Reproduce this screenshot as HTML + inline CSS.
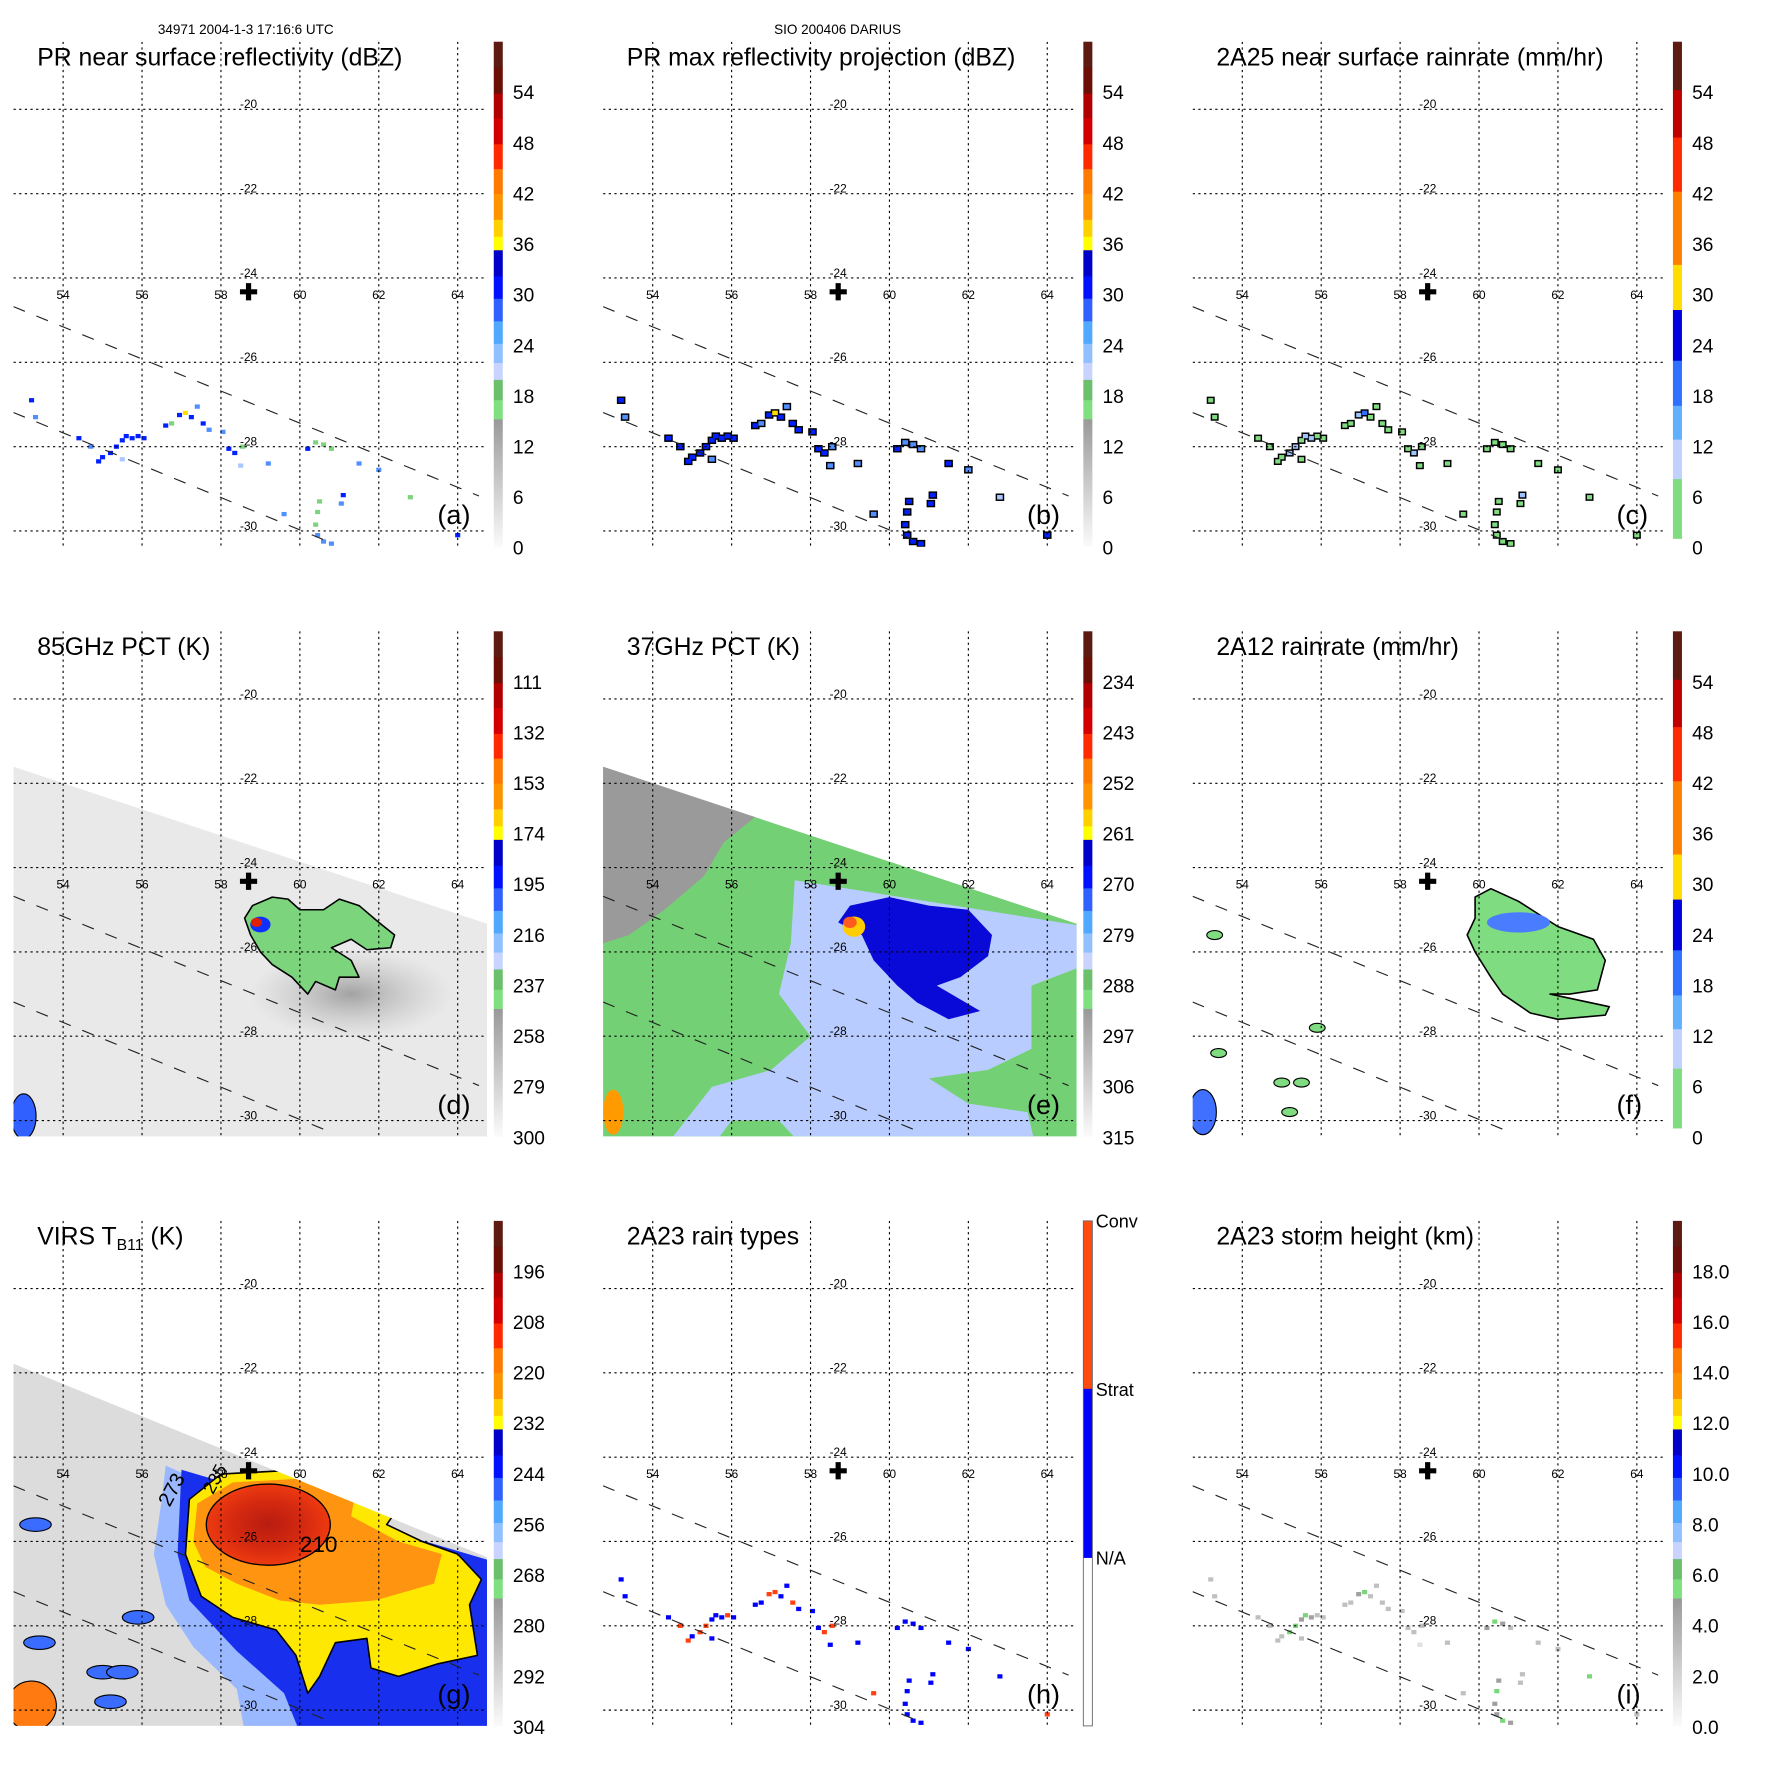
<!DOCTYPE html>
<html><head><meta charset="utf-8">
<style>
html,body{margin:0;padding:0;background:#fff;}
svg{display:block;font-family:"Liberation Sans",sans-serif;}
</style></head>
<body>
<svg id="chart" width="1771" height="1771" viewBox="0 0 1571 1571" xmlns="http://www.w3.org/2000/svg">
<defs>
<linearGradient id="grayGrad" x1="0" y1="0" x2="0" y2="1">
<stop offset="0" stop-color="#999"/><stop offset="1" stop-color="#fbfbfb"/>
</linearGradient>
<radialGradient id="redCore"><stop offset="0" stop-color="#b81c10"/><stop offset="0.6" stop-color="#d62a10"/><stop offset="1" stop-color="#ee3a10"/></radialGradient>
<radialGradient id="darkCloud"><stop offset="0" stop-color="#9a9a9a" stop-opacity="0.9"/><stop offset="1" stop-color="#bbb" stop-opacity="0"/></radialGradient>
</defs>
<text x="218" y="30" font-size="12" text-anchor="middle">34971 2004-1-3 17:16:6 UTC</text>
<text x="743" y="30" font-size="12" text-anchor="middle">SIO 200406 DARIUS</text>
</svg>
<script>
// ---- data arrays ----
const lonTicks = [54, 56, 58, 60, 62, 64];
const latTicks = [-20, -22, -24, -26, -28, -30];
const centerLon = 58.7, centerLat = -24.36;
const cbA = ["54","48","42","36","30","24","18","12","6","0"];
const cbB = ["54","48","42","36","30","24","18","12","6","0"];
const cbC = ["54","48","42","36","30","24","18","12","6","0"];
const cbD = ["111","132","153","174","195","216","237","258","279","300"];
const cbE = ["234","243","252","261","270","279","288","297","306","315"];
const cbF = ["54","48","42","36","30","24","18","12","6","0"];
const cbG = ["196","208","220","232","244","256","268","280","292","304"];
const cbH = ["Conv","Strat","N/A"];
const cbI = ["18.0","16.0","14.0","12.0","10.0","8.0","6.0","4.0","2.0","0.0"];
// PR rain cells (lon, lat)
const cellLon = [53.2,53.3,54.4,54.7,55.0,55.2,55.35,55.5,55.6,55.75,55.9,56.05,56.6,56.75,56.95,57.1,57.25,57.4,57.55,57.7,58.05,58.2,58.35,58.55,58.5,60.2,60.4,60.6,60.8,61.5,62.0,61.1,61.05,60.5,60.45,60.4,60.45,60.6,60.8,64.0,62.8,59.2,59.6,55.5,54.9];
const cellLat = [-26.9,-27.3,-27.8,-28.0,-28.25,-28.15,-28.0,-27.85,-27.75,-27.8,-27.75,-27.8,-27.5,-27.45,-27.25,-27.2,-27.3,-27.05,-27.45,-27.6,-27.65,-28.05,-28.15,-28.0,-28.45,-28.05,-27.9,-27.95,-28.05,-28.4,-28.55,-29.15,-29.35,-29.3,-29.55,-29.85,-30.1,-30.25,-30.3,-30.1,-29.2,-28.4,-29.6,-28.3,-28.35];
const reflA = [30,24,28,25,28,31,32,30,33,31,29,30,30,19,31,37,30,24,28,27,27,30,31,18,22,30,18,17,19,25,24,31,26,18,17,19,24,26,25,29,18,24,24,23,30];
const reflB = [31,25,30,28,30,33,34,32,34,32,31,31,32,24,33,38,32,27,30,29,29,31,32,26,26,31,27,26,25,28,27,32,29,28,28,29,30,30,29,30,20,26,26,27,31];
const rainC = [4,2,3,3,4,6,7,5,8,6,4,5,5,2,6,14,5,3,4,3,3,5,6,2,2,5,2,2,2,3,3,6,3,2,2,2,3,3,3,4,1,2,2,2,5];
const typeH = [1,1,1,2,1,2,2,1,1,1,2,1,1,1,2,2,1,1,2,1,1,1,2,2,1,1,1,1,1,1,1,1,1,1,1,1,1,1,1,2,1,1,2,1,2];
const heightI = [3,3,3,2,3,5,5,4,5,4,3,3,3,2,4,5,3,3,2,2,2,3,3,2,1,4,5,4,3,3,2,3,3,4,5,4,4,5,4,2,6,2,2,3,3];
// field polygons (lon, lat)
const swathPMI = [[52.4,-21.5],[65,-25.41],[65,-31],[52.4,-31]];
const swathVIRS = [[52.4,-21.65],[65,-26.47],[65,-31],[52.4,-31]];
const stormD = [[58.8,-24.9],[59.3,-24.7],[59.7,-24.75],[60.0,-25.0],[60.6,-25.0],[61.0,-24.75],[61.5,-24.9],[62.0,-25.3],[62.4,-25.6],[62.3,-25.9],[61.7,-25.95],[61.3,-25.7],[60.8,-25.9],[61.3,-26.2],[61.5,-26.6],[61.0,-26.6],[60.9,-26.9],[60.4,-26.7],[60.2,-27.0],[59.8,-26.6],[59.3,-26.3],[59.0,-26.0],[58.75,-25.6],[58.6,-25.2]];
const grayE = [[52.4,-21.5],[56.6,-22.8],[55.8,-23.4],[55.3,-24.2],[54.3,-25.0],[53.4,-25.6],[52.4,-25.9]];
const lightE = [[57.6,-24.3],[65,-25.4],[65,-26.3],[63.6,-26.8],[63.6,-28.3],[62.5,-28.8],[61.0,-29.0],[62.0,-29.6],[63.5,-29.8],[63.8,-31],[58.2,-31],[57.2,-30.0],[56.0,-30.0],[55.2,-31],[54.0,-31],[55.5,-29.2],[57.0,-28.8],[58.0,-28.0],[57.2,-27.0],[57.5,-25.8]];
const blueE = [[59.0,-24.9],[60,-24.7],[61,-24.9],[62,-25.0],[62.6,-25.6],[62.5,-26.1],[61.8,-26.6],[61.2,-26.8],[62.3,-27.4],[61.5,-27.6],[60.7,-27.2],[60.2,-26.8],[59.6,-26.2],[59.3,-25.6],[58.7,-25.3]];
const stormF = [[59.9,-24.7],[60.3,-24.5],[61,-24.8],[62,-25.4],[62.9,-25.7],[63.2,-26.2],[63.0,-26.9],[62.3,-27.0],[61.8,-27.0],[63.3,-27.3],[63.2,-27.5],[62.0,-27.6],[61.3,-27.45],[60.6,-27.0],[60.3,-26.6],[59.9,-26.0],[59.7,-25.6],[59.9,-25.2]];
const lightG = [[56.6,-24.2],[60,-25.6],[60,-31],[58.7,-31],[58.4,-29.5],[57.3,-28.5],[56.6,-27.5],[56.3,-26.3],[56.5,-25.0]];
const blueG = [[57.0,-24.3],[65,-26.5],[65,-31],[60.2,-31],[59.6,-29.6],[58.4,-28.6],[57.2,-27.4],[56.9,-26.3]];
const yellowG = [[57.2,-25.0],[58,-24.4],[60,-24.3],[62.5,-25.2],[62.2,-25.6],[63.1,-26.0],[64.0,-26.3],[64.6,-26.9],[64.3,-27.5],[64.5,-28.7],[63.5,-28.9],[62.5,-29.2],[61.8,-29.0],[61.7,-28.3],[60.9,-28.4],[60.5,-29.2],[60.2,-29.6],[59.9,-28.7],[59.4,-28.1],[58.3,-27.8],[57.5,-27.3],[57.1,-26.3]];
const orangeG = [[57.4,-25.1],[58.3,-24.6],[60.2,-24.5],[61.4,-24.9],[61.3,-25.4],[62.5,-26.0],[63.6,-26.3],[63.4,-27.0],[61.9,-27.4],[60.5,-27.5],[59.5,-27.4],[58.4,-27.0],[57.6,-26.6],[57.3,-26.0]];
const blobLon = [55.9,53.4,55.0,55.5,55.2,53.3];
const blobLat = [-27.8,-28.4,-29.1,-29.1,-29.8,-25.6];

// ---- helpers ----
const NS = "http://www.w3.org/2000/svg";
const svg = document.getElementById('chart');
function mk(tag, attrs, parent){ const e=document.createElementNS(NS,tag); for(const k in attrs) e.setAttribute(k,attrs[k]); (parent||svg).appendChild(e); return e; }
function axes(ox, oy){ return { X: lon => ox + 56 + (lon-54)*35, Y: lat => oy + 97 + (-20-lat)*37.4 }; }
function poly(a, pts){ return pts.map(p => a.X(p[0]).toFixed(1)+','+a.Y(p[1]).toFixed(1)).join(' '); }

const cmapA = [[37,60,'#5c1a12'],[60,83,'#6a0e06'],[83,105,'#b00000'],[105,128,'#d40000'],[128,150,'#ff2a00'],[150,172,'#ff7a00'],[172,195,'#ff9400'],[195,210,'#ffd000'],[210,222,'#ffff00'],[222,245,'#0000c8'],[245,265,'#0010ff'],[265,285,'#3060ff'],[285,305,'#50a8ff'],[305,322,'#90c0ff'],[322,337,'#c8d4ff'],[337,355,'#6cc06c'],[355,372,'#80e080'],[372,485,'url(#grayGrad)']];
const cmapC = [[37,80,'#5c1a12'],[80,122,'#c00000'],[122,170,'#ff2a00'],[170,235,'#ff8000'],[235,275,'#ffdd00'],[275,320,'#0000e0'],[320,360,'#3070ff'],[360,390,'#60b0ff'],[390,425,'#c0d0ff'],[425,478,'#80dc80'],[478,485,'#ffffff']];
const cmapH = [[37,186,'#ff4a10'],[186,336,'#0000ff'],[336,485,'#ffffff']];

function colA(v){ if(v<15) return '#aaa'; if(v<20) return '#7cd47c'; if(v<24) return '#a8c8ff'; if(v<28) return '#4f8fff'; if(v<35) return '#0020ff'; if(v<40) return '#ffe000'; if(v<45) return '#ff8000'; return '#e00000'; }
function colC(v){ if(v<6) return '#80dc80'; if(v<12) return '#a0c4ff'; if(v<18) return '#3070ff'; if(v<24) return '#0000e0'; return '#ffdd00'; }
function colH(v){ return v===2 ? '#ff4010' : '#0000ff'; }
function colI(v){ if(v<2) return '#e0e0e0'; if(v<4) return '#c0c0c0'; if(v<5) return '#a0a0a0'; if(v<7) return '#78d878'; return '#a0c0ff'; }

const panels = [
 {id:'a',ox:0,oy:0,title:'PR near surface reflectivity (dBZ)',cb:cbA,cm:cmapA},
 {id:'b',ox:523,oy:0,title:'PR max reflectivity projection (dBZ)',cb:cbB,cm:cmapA},
 {id:'c',ox:1046,oy:0,title:'2A25 near surface rainrate (mm/hr)',cb:cbC,cm:cmapC},
 {id:'d',ox:0,oy:523,title:'85GHz PCT (K)',cb:cbD,cm:cmapA},
 {id:'e',ox:523,oy:523,title:'37GHz PCT (K)',cb:cbE,cm:cmapA},
 {id:'f',ox:1046,oy:523,title:'2A12 rainrate (mm/hr)',cb:cbF,cm:cmapC},
 {id:'g',ox:0,oy:1046,title:'VIRS',cb:cbG,cm:cmapA},
 {id:'h',ox:523,oy:1046,title:'2A23 rain types',cb:cbH,cm:cmapH},
 {id:'i',ox:1046,oy:1046,title:'2A23 storm height (km)',cb:cbI,cm:cmapA}
];

function drawCells(g, a, vals, colFn, w, h, outline){
  if(outline){
    for(let i=0;i<cellLon.length;i++){
      const o = mk('rect',{x:a.X(cellLon[i])-w/2-1.3,y:a.Y(cellLat[i])-h/2-1.3,width:w+2.6,height:h+2.6,fill:'#000'},g);
      
      
    }
  }
  for(let i=0;i<cellLon.length;i++){
    const r = mk('rect',{x:a.X(cellLon[i])-w/2,y:a.Y(cellLat[i])-h/2,width:w,height:h,fill:colFn(vals[i])},g);
    
    
  }
}
function fillPoly(g, a, pts, fill, stroke, name){
  const p = mk('polygon',{points:poly(a,pts),fill:fill,stroke:stroke||'none','stroke-width':1.4,'stroke-linejoin':'round'},g);
  
  
  return p;
}

panels.forEach(P => {
  const a = axes(P.ox, P.oy);
  const grp = mk('g',{});
  
  
  const cp = mk('clipPath',{id:'clip-'+P.id}, svg.querySelector('defs'));
  mk('rect',{x:P.ox+12,y:P.oy+37,width:420,height:448},cp);
  const cs = mk('clipPath',{id:'swath-'+P.id}, svg.querySelector('defs'));
  mk('polygon',{points:poly(a, P.id==='g'?swathVIRS:swathPMI)},cs);
  const map = mk('g',{'clip-path':'url(#clip-'+P.id+')'},grp);
  
  
  const fld = mk('g',{'clip-path':'url(#swath-'+P.id+')'},map);
  
  

  if(P.id==='a') drawCells(map,a,reflA,colA,4.5,3.8,false);
  if(P.id==='b') drawCells(map,a,reflB,colA,5,4,true);
  if(P.id==='c') drawCells(map,a,rainC,colC,4.5,3.8,true);
  if(P.id==='h') drawCells(map,a,typeH,colH,4.5,3.8,false);
  if(P.id==='i') drawCells(map,a,heightI,colI,4.5,3.8,false);
  if(P.id==='d'){
    fillPoly(fld,a,swathPMI,'#e9e9e9',null,'pct85-background');
    const e1 = mk('ellipse',{cx:a.X(61.3),cy:a.Y(-27.0),rx:90,ry:40,fill:'url(#darkCloud)'},fld);
    
    
    fillPoly(fld,a,stormD,'#7cd47c','#000','convective-area-outline');
    const c1 = mk('ellipse',{cx:a.X(59.0),cy:a.Y(-25.35),rx:9,ry:7,fill:'#1030ff'},fld);
    
    
    const c2 = mk('ellipse',{cx:a.X(58.9),cy:a.Y(-25.3),rx:5,ry:4,fill:'#e02000'},fld);
    
    
    const c3 = mk('ellipse',{cx:a.X(53.0),cy:a.Y(-29.9),rx:11,ry:20,fill:'#3060ff',stroke:'#000'},fld);
    
    
  }
  if(P.id==='e'){
    fillPoly(fld,a,swathPMI,'#74d074',null,'pct37-background');
    fillPoly(fld,a,grayE,'#9a9a9a',null,'warm-ocean-area');
    fillPoly(fld,a,lightE,'#b8ccff',null,'light-rain-area');
    fillPoly(fld,a,blueE,'#0a0ad8',null,'heavy-rain-area');
    const c1 = mk('ellipse',{cx:a.X(59.1),cy:a.Y(-25.4),rx:10,ry:9,fill:'#ffcc00'},fld);
    
    
    const c2 = mk('ellipse',{cx:a.X(59.0),cy:a.Y(-25.3),rx:6,ry:5,fill:'#ff5a20'},fld);
    
    
    const c3 = mk('ellipse',{cx:a.X(53.0),cy:a.Y(-29.8),rx:9,ry:20,fill:'#ff9a00'},fld);
    
    
  }
  if(P.id==='f'){
    fillPoly(map,a,stormF,'#80dc80','#000','rain-area-outline');
    const b1 = mk('ellipse',{cx:a.X(61.0),cy:a.Y(-25.3),rx:28,ry:9,fill:'#4a7cff'},map);
    
    
    for(let i=0;i<blobLon.length;i++){
      const b = mk('ellipse',{cx:a.X(blobLon[i]),cy:a.Y(blobLat[i]),rx:7,ry:4,fill:'#80dc80',stroke:'#000'},map);
      
      
    }
    const c3 = mk('ellipse',{cx:a.X(53.0),cy:a.Y(-29.8),rx:12,ry:20,fill:'#4070ff',stroke:'#000'},map);
    
    
  }
  if(P.id==='g'){
    fillPoly(fld,a,swathVIRS,'#dcdcdc',null,'clear-sky-background');
    fillPoly(fld,a,lightG,'#9ab8ff',null,'low-cloud-edge');
    fillPoly(fld,a,blueG,'#1830ee',null,'mid-level-cloud');
    fillPoly(fld,a,yellowG,'#ffe800','#000','cirrus-shield');
    fillPoly(fld,a,orangeG,'#ff9410',null,'cold-cloud-top');
    const r = mk('ellipse',{cx:a.X(59.2),cy:a.Y(-25.6),rx:55,ry:36,fill:'url(#redCore)',stroke:'#000','stroke-width':1.2},fld);
    
    
    const s = mk('ellipse',{cx:a.X(53.2),cy:a.Y(-29.9),rx:22,ry:22,fill:'#ff7a10',stroke:'#000'},fld);
    
    
    for(let i=0;i<blobLon.length;i++){
      const b = mk('ellipse',{cx:a.X(blobLon[i]),cy:a.Y(blobLat[i]),rx:14,ry:6,fill:'#3a6cff',stroke:'#000'},fld);
      
      
    }
    [['210',60.0,-26.25,0,20],['273',56.7,-25.2,-62,18],['235',57.8,-24.9,-62,16]].forEach(t=>{
      const tx = mk('text',{x:a.X(t[1]),y:a.Y(t[2]),'font-size':t[4],transform:'rotate('+t[3]+' '+a.X(t[1])+' '+a.Y(t[2])+')'},fld);
      tx.textContent=t[0];
      
      
    });
  }

  lonTicks.forEach(lon=>{
    const l = mk('line',{x1:a.X(lon),x2:a.X(lon),y1:P.oy+37,y2:P.oy+485,stroke:'#000','stroke-width':1,'stroke-dasharray':'2,3'},map);
    
    
    const t = mk('text',{x:a.X(lon),y:a.Y(-24.5),'font-size':10.5,'text-anchor':'middle'},grp);
    t.textContent=lon;
    
    
  });
  latTicks.forEach(lat=>{
    const l = mk('line',{x1:P.ox+12,x2:P.ox+432,y1:a.Y(lat),y2:a.Y(lat),stroke:'#000','stroke-width':1,'stroke-dasharray':'2,3'},map);
    
    
    const t = mk('text',{x:a.X(58.7),y:a.Y(lat)-1,'font-size':10.5,'text-anchor':'middle'},grp);
    t.textContent=lat;
    
    
  });
  [[[52.74,-24.68],[64.54,-29.17]],[[52.74,-27.19],[60.69,-30.24]]].forEach(s=>{
    const l = mk('line',{x1:a.X(s[0][0]),y1:a.Y(s[0][1]),x2:a.X(s[1][0]),y2:a.Y(s[1][1]),stroke:'#222','stroke-width':1,'stroke-dasharray':'11,11'},map);
    
    
  });
  const cx = mk('text',{x:a.X(centerLon),y:a.Y(centerLat)+6,'font-size':20,'font-weight':'bold','text-anchor':'middle'},grp);
  cx.textContent='✚';
  
  
  const tt = mk('text',{x:P.ox+33,y:P.oy+58,'font-size':22},grp);
  if(P.id==='g'){
    tt.innerHTML='VIRS T<tspan font-size="14" dy="5">B11</tspan><tspan dy="-5"> (K)</tspan>';
  } else tt.textContent=P.title;
  
  
  const lt = mk('text',{x:P.ox+388,y:P.oy+465,'font-size':24},grp);
  lt.textContent='('+P.id+')';
  
  
  const cb = mk('g',{},grp);
  
  
  P.cm.forEach(s=>{
    const r = mk('rect',{x:P.ox+438,y:P.oy+s[0],width:8,height:s[1]-s[0]+0.5,fill:s[2]},cb);
    
    
  });
  if(P.id==='h'){
    const fr = mk('rect',{x:P.ox+438,y:P.oy+37,width:8,height:448,fill:'none',stroke:'#666','stroke-width':0.8},cb);
    
    
    P.cb.forEach((lab,i)=>{
      const t = mk('text',{x:P.ox+449,y:P.oy+37+i*149.5+6,'font-size':16},cb);
      t.textContent=lab;
      
      
    });
  } else {
    P.cb.forEach((lab,i)=>{
      const t = mk('text',{x:P.ox+455,y:P.oy+82+i*44.9+6,'font-size':17},cb);
      t.textContent=lab;
      
      
    });
  }
});
</script>
</body></html>
